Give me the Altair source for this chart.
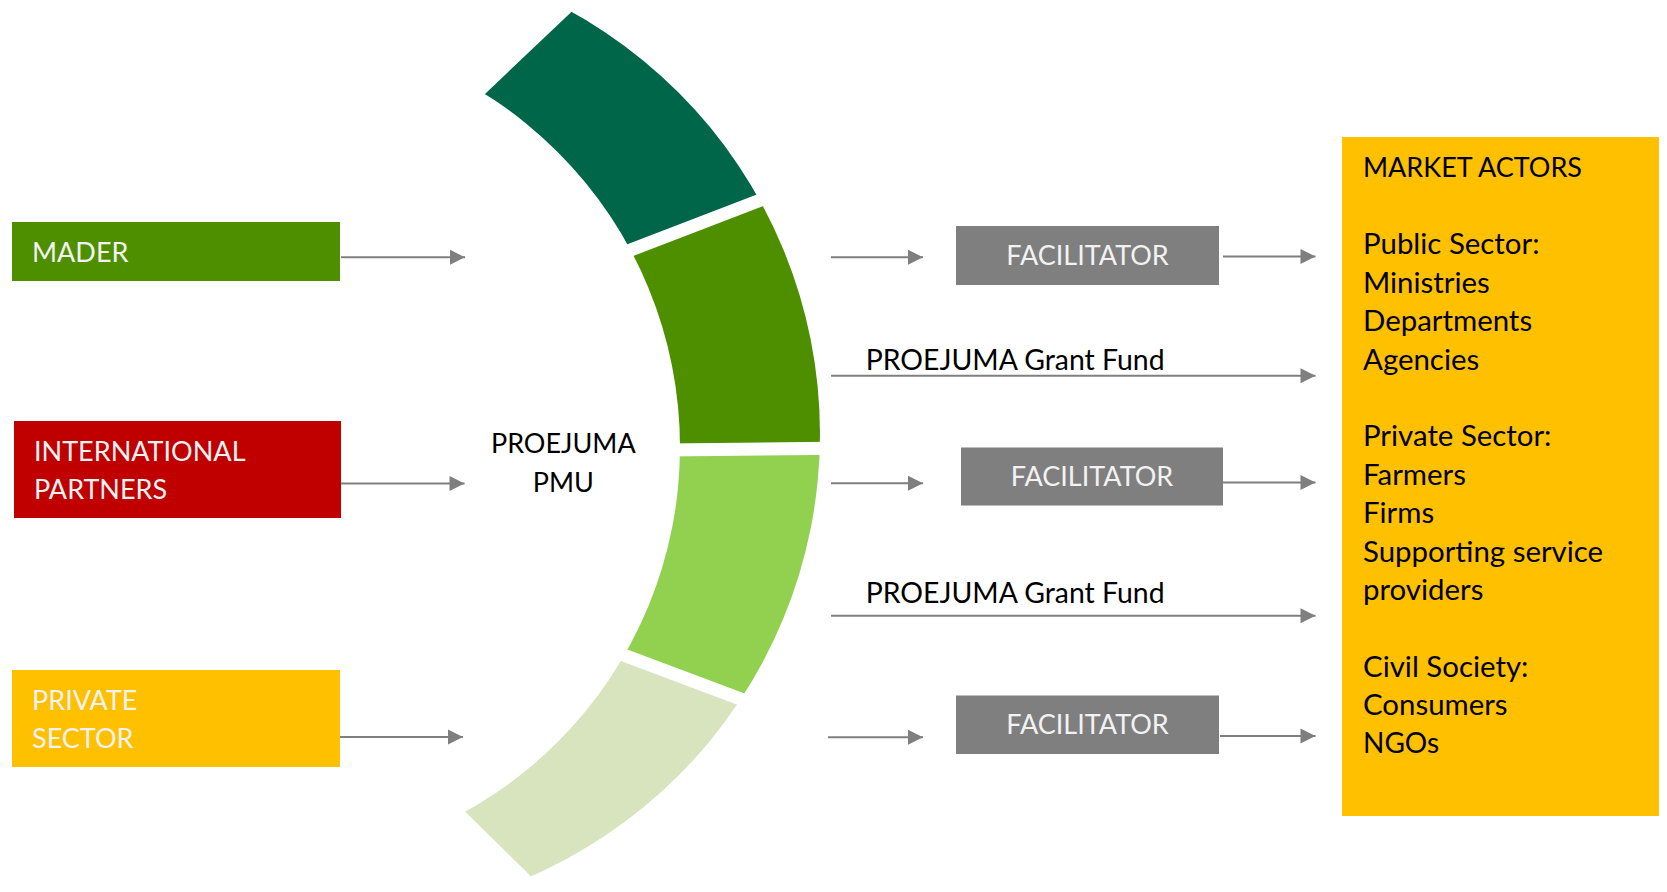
import altair as alt
import pandas as pd

# ---------------- content (labels, categories, colours) ----------------
source_labels = ["MADER", "INTERNATIONAL\nPARTNERS", "PRIVATE\nSECTOR"]
source_colors = ["#4E8F00", "#C00000", "#FFC000"]

arc_segments = ["Segment 1", "Segment 2", "Segment 3", "Segment 4"]
arc_start_deg = [46.5, 69.0, 89.4, 110.6]
arc_end_deg = [69.0, 89.4, 110.6, 134.5]
arc_colors = ["#00664A", "#4E8F00", "#92D050", "#D7E4BD"]

hub_label = "PROEJUMA\nPMU"
facilitator_labels = ["FACILITATOR", "FACILITATOR", "FACILITATOR"]
grant_labels = ["PROEJUMA Grant Fund", "PROEJUMA Grant Fund"]
market_lines = ["MARKET ACTORS", "", "Public Sector:", "Ministries", "Departments",
                "Agencies", "", "Private Sector:", "Farmers", "Firms",
                "Supporting service", "providers", "", "Civil Society:",
                "Consumers", "NGOs"]
market_color = "#FFC000"
facilitator_color = "#7F7F7F"
arrow_color = "#7F7F7F"

# ---------------- layout (page pixel positions, sizes) ----------------
W, H = 1651, 876
X0, Y0 = 8, 8
source_box_x = [(12, 340), (14, 341), (12, 340)]
source_box_y = [(222, 281), (421, 518), (670, 767)]
source_text_x = [32, 34, 32]
source_text_y = [252.5, 451.0, 700.0]
line_gap = 38.3

fac_box_x = [(956, 1219), (961, 1223), (956, 1219)]
fac_box_y = [(226, 285), (447.5, 505.5), (695.5, 754)]
market_box = ((1342, X0 + W), (137, 816))
market_text_x = 1363
market_text_y0 = 167.0
market_gap = 38.4

# ring: segments radiate from one point, outer / inner edges are two circles
seg_center, seg_r_outer, seg_r_inner = (94, 456), 800, 450
outer_edge_center, outer_edge_r = (337, 434), 483
inner_edge_center, inner_edge_r = (263, 447), 417

hub_xy = (563.3, 443.3)
grant_text_xy = [(865.7, 359.2), (865.7, 592.0)]

arrows_x = [(341, 465), (341, 464.5), (340, 463),
            (831, 923), (831, 923), (828, 923),
            (1223, 1315.5), (1223, 1315.5), (1220, 1315.5),
            (831, 1315.5), (831, 1315.5)]
arrows_y = [257.3, 483.5, 737.0,
            257.2, 483.3, 737.3,
            256.5, 482.5, 736.0,
            375.8, 615.8]

FONT = "Lato"
FS_CAPS = 27
FS_GRANT = 28.4
FS_MIXED = 29.4

# ---------------- tables ----------------
boxes = []
for lab, col, (x1, x2), (y1, y2) in zip(source_labels, source_colors, source_box_x, source_box_y):
    boxes.append(dict(name=lab, x=x1, x2=x2, y=y1, y2=y2, color=col))
for lab, (x1, x2), (y1, y2) in zip(facilitator_labels, fac_box_x, fac_box_y):
    boxes.append(dict(name=lab, x=x1, x2=x2, y=y1, y2=y2, color=facilitator_color))
boxes.append(dict(name="MARKET ACTORS", x=market_box[0][0], x2=market_box[0][1],
                  y=market_box[1][0], y2=market_box[1][1], color=market_color))
boxes_df = pd.DataFrame(boxes)

arrows_df = pd.DataFrame([dict(x=a, x2=b, y=y) for (a, b), y in zip(arrows_x, arrows_y)])

arcs_df = pd.DataFrame(dict(segment=arc_segments, start=arc_start_deg,
                            end=arc_end_deg, color=arc_colors))

def text_size(s):
    if s.upper() == s:
        return FS_CAPS
    if sum(c.islower() for c in s) <= 1:
        return 28.0
    return FS_MIXED

left_texts = []
for lab, tx, ty in zip(source_labels, source_text_x, source_text_y):
    for i, part in enumerate(lab.split("\n")):
        left_texts.append(dict(text=part, x=tx, y=ty + i * line_gap,
                               color="#F2F2F2", size=FS_CAPS))
for lab, (tx, ty) in zip(grant_labels, grant_text_xy):
    left_texts.append(dict(text=lab, x=tx, y=ty, color="#000000", size=FS_GRANT))
for i, lab in enumerate(market_lines):
    if lab:
        left_texts.append(dict(text=lab, x=market_text_x,
                               y=market_text_y0 + i * market_gap,
                               color="#000000", size=text_size(lab)))
left_df = pd.DataFrame(left_texts)

center_texts = []
for i, part in enumerate(hub_label.split("\n")):
    center_texts.append(dict(text=part, x=hub_xy[0], y=hub_xy[1] + i * 39.0,
                             color="#000000", size=FS_CAPS))
for lab, (x1, x2), (y1, y2) in zip(facilitator_labels, fac_box_x, fac_box_y):
    center_texts.append(dict(text=lab, x=(x1 + x2) / 2, y=(y1 + y2) / 2,
                             color="#F2F2F2", size=FS_CAPS))
center_df = pd.DataFrame(center_texts)

one = pd.DataFrame({"k": [0]})

# ---------------- scales ----------------
xs = alt.Scale(domain=[X0, X0 + W], nice=False, zero=False)
ys = alt.Scale(domain=[Y0, Y0 + H], nice=False, zero=False, reverse=True)

def X(f):
    return alt.X(f, type="quantitative", scale=xs, axis=None)

def Y(f):
    return alt.Y(f, type="quantitative", scale=ys, axis=None)

def XD(v):
    return alt.X(datum=v, type="quantitative", scale=xs, axis=None)

def YD(v):
    return alt.Y(datum=v, type="quantitative", scale=ys, axis=None)

TWO_PI = 6.283185307

arcs = alt.Chart(arcs_df).mark_arc(
    radius=seg_r_outer, radius2=seg_r_inner, padAngle=0.0142
).encode(
    x=XD(seg_center[0]), y=YD(seg_center[1]),
    theta=alt.Theta("start:Q", scale=alt.Scale(domain=[0, 360], range=[0, TWO_PI]), stack=None),
    theta2="end:Q",
    color=alt.Color("color:N", scale=None),
)

outer_trim = alt.Chart(one).mark_arc(
    radius=1500, radius2=outer_edge_r, theta=0, theta2=TWO_PI, color="white"
).encode(x=XD(outer_edge_center[0]), y=YD(outer_edge_center[1]))

inner_trim = alt.Chart(one).mark_arc(
    radius=inner_edge_r, radius2=0, theta=0, theta2=TWO_PI, color="white"
).encode(x=XD(inner_edge_center[0]), y=YD(inner_edge_center[1]))

rects = alt.Chart(boxes_df).mark_rect().encode(
    x=X("x"), x2="x2", y=Y("y"), y2="y2",
    color=alt.Color("color:N", scale=None),
)

lines = alt.Chart(arrows_df).mark_rule(strokeWidth=2, color=arrow_color).encode(
    x=X("x"), x2="x2", y=Y("y"),
)

heads = alt.Chart(arrows_df).mark_point(
    shape="M-1,-1L1,0L-1,1Z", filled=True, size=225, opacity=1,
    color=arrow_color, xOffset=-7.5,
).encode(x=X("x2"), y=Y("y"))

ltext = alt.Chart(left_df).mark_text(
    align="left", baseline="middle", font=FONT, dy=1.5
).encode(x=X("x"), y=Y("y"), text="text:N",
         color=alt.Color("color:N", scale=None), size=alt.Size("size:Q", scale=None))

ctext = alt.Chart(center_df).mark_text(
    align="center", baseline="middle", font=FONT, dy=1.5
).encode(x=X("x"), y=Y("y"), text="text:N",
         color=alt.Color("color:N", scale=None), size=alt.Size("size:Q", scale=None))

chart = alt.layer(arcs, outer_trim, inner_trim, rects, lines, heads, ltext, ctext).properties(
    width=W, height=H, padding=0,
    autosize=alt.AutoSizeParams(type="none"),
).configure_view(stroke=None)

chart.save("out.html", embed_options={"renderer": "svg", "actions": False})
